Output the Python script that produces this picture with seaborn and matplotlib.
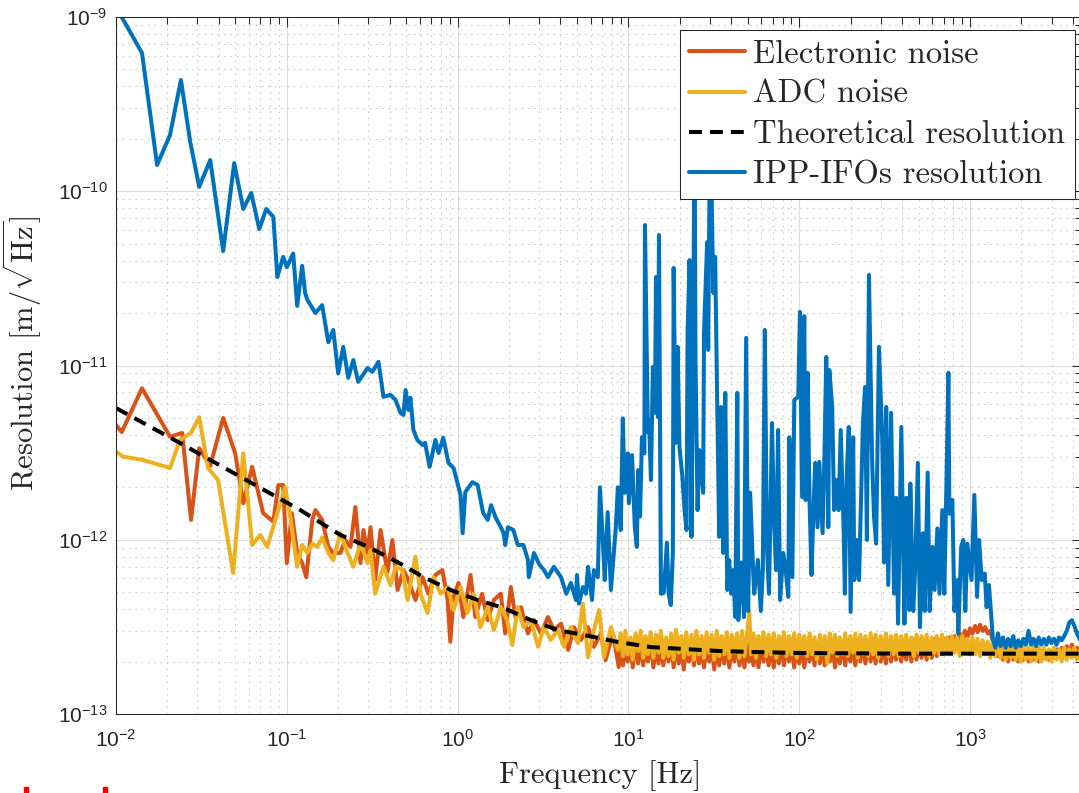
import matplotlib
matplotlib.use("Agg")
import matplotlib.pyplot as plt
import numpy as np
import seaborn as sns
from matplotlib.patches import Rectangle
from matplotlib.ticker import LogLocator, NullFormatter

# Frequency [Hz], resolution [pm/sqrt(Hz)]
# low-frequency part (below ~9 Hz), as (f, value) pairs
elec_lf = [
    (0.0100, 4.56), (0.0108, 4.15), (0.0142, 7.4), (0.0207, 3.9), (0.0244, 4.1),
    (0.0275, 1.30), (0.0307, 3.35), (0.0356, 2.65), (0.0424, 5.0), (0.0499, 3.13),
    (0.0556, 1.62), (0.0627, 2.62), (0.0727, 1.42), (0.0834, 1.27), (0.0892, 2.06),
    (0.0952, 2.06), (0.100, 0.735), (0.107, 1.42), (0.115, 0.84), (0.123, 0.735),
    (0.130, 0.61), (0.141, 1.30), (0.147, 1.48), (0.161, 1.30), (0.175, 0.91),
    (0.187, 0.84), (0.206, 0.84), (0.220, 0.997), (0.236, 0.91), (0.252, 1.54),
    (0.270, 0.735), (0.281, 1.137), (0.297, 0.84), (0.309, 1.18), (0.329, 0.587),
    (0.354, 1.137), (0.388, 0.65), (0.415, 0.997), (0.445, 0.515), (0.482, 0.67),
    (0.515, 0.587), (0.566, 0.451), (0.623, 0.61), (0.675, 0.49), (0.741, 0.628),
    (0.814, 0.67), (0.874, 0.451), (0.906, 0.26), (0.947, 0.47), (1.013, 0.565),
    (1.08, 0.36), (1.19, 0.628), (1.27, 0.36), (1.39, 0.49), (1.50, 0.346),
    (1.63, 0.451), (1.79, 0.49), (1.90, 0.29), (2.05, 0.535), (2.18, 0.36),
    (2.35, 0.41), (2.58, 0.29), (2.80, 0.346), (3.08, 0.29), (3.38, 0.36),
    (3.66, 0.303), (4.03, 0.33), (4.44, 0.233), (4.80, 0.315), (5.27, 0.266),
    (5.80, 0.315), (6.28, 0.243), (6.90, 0.29), (7.35, 0.204), (8.11, 0.29),
    (8.78, 0.186),
]

adc_lf = [
    (0.0100, 3.20), (0.0110, 3.0), (0.0144, 2.87), (0.0207, 2.58), (0.0237, 3.74),
    (0.0275, 4.10), (0.0307, 5.05), (0.0346, 2.58), (0.0396, 2.20), (0.0485, 0.645),
    (0.0556, 3.13), (0.0627, 0.933), (0.0699, 1.065), (0.0768, 0.91), (0.0880, 1.42),
    (0.0978, 2.0), (0.104, 1.42), (0.115, 0.70), (0.123, 0.933), (0.132, 0.84),
    (0.141, 0.95), (0.151, 0.91), (0.161, 1.03), (0.175, 0.84), (0.187, 0.765),
    (0.206, 1.09), (0.227, 0.84), (0.245, 0.70), (0.270, 0.95), (0.297, 0.735),
    (0.309, 0.873), (0.329, 0.49), (0.368, 0.70), (0.405, 0.55), (0.433, 0.70),
    (0.476, 0.67), (0.509, 0.451), (0.566, 0.80), (0.607, 0.49), (0.667, 0.38),
    (0.723, 0.61), (0.795, 0.49), (0.874, 0.535), (0.947, 0.395), (1.04, 0.535),
    (1.14, 0.38), (1.24, 0.49), (1.36, 0.315), (1.50, 0.41), (1.63, 0.303),
    (1.79, 0.41), (1.95, 0.346), (2.09, 0.249), (2.25, 0.41), (2.43, 0.315),
    (2.68, 0.346), (2.96, 0.243), (3.20, 0.315), (3.51, 0.266), (3.86, 0.303),
    (4.20, 0.243), (4.60, 0.315), (5.06, 0.255), (5.41, 0.43), (5.80, 0.212),
    (6.28, 0.303), (6.74, 0.395), (7.19, 0.212), (7.90, 0.315), (8.67, 0.233),
]

# high-frequency part: shared frequency grid and the two noise floors
hf_freq = [
    9.0, 9.3, 9.6, 9.9, 10.3, 10.6, 11.0, 11.4, 11.8, 12.2,
    12.6, 13.0, 13.5, 14.0, 14.5, 15.0, 15.5, 16.0, 16.6, 17.2,
    17.8, 18.4, 19.0, 19.7, 20.4, 21.1, 21.8, 22.6, 23.4, 24.2,
    25.0, 25.9, 26.8, 27.7, 28.7, 29.7, 30.7, 31.8, 32.9, 34.0,
    35.2, 36.4, 37.7, 39.0, 40.3, 41.7, 43.2, 44.7, 46.2, 47.8,
    49.5, 50.9, 52.3, 54.0, 55.8, 57.7, 59.7, 61.8, 64.0, 66.2,
    68.5, 70.9, 73.4, 76.0, 78.6, 81.4, 84.2, 87.2, 90.2, 93.4,
    96.7, 100, 104, 107, 111, 115, 119, 123, 127, 132,
    136, 141, 146, 151, 156, 162, 167, 173, 179, 186,
    192, 199, 206, 213, 220, 228, 236, 244, 253, 262,
    271, 280, 290, 300, 311, 322, 333, 345, 357, 369,
    382, 395, 409, 423, 438, 454, 469, 486, 503, 520,
    538, 557, 577, 597, 618, 639, 662, 685, 709, 733,
    759, 785, 813, 841, 870, 901, 932, 965, 998, 1033,
    1070, 1107, 1145, 1185, 1227, 1270, 1314, 1360, 1407, 1457,
    1508, 1560, 1615, 1671, 1730, 1790, 1853, 1917, 1984, 2054,
    2125, 2200, 2277, 2356, 2439, 2524, 2612, 2703, 2798, 2896,
    2997, 3102, 3210, 3322, 3439, 3559, 3683, 3812, 3946, 4084,
    4226, 4374, 4510,
]

adc_hf = [
    0.29, 0.215, 0.30, 0.22, 0.275, 0.205, 0.29, 0.23, 0.30, 0.21,
    0.28, 0.22, 0.295, 0.21, 0.285, 0.225, 0.30, 0.21, 0.275, 0.215,
    0.29, 0.205, 0.305, 0.225, 0.28, 0.21, 0.295, 0.22, 0.285, 0.205,
    0.30, 0.22, 0.28, 0.21, 0.295, 0.225, 0.285, 0.205, 0.30, 0.215,
    0.28, 0.22, 0.295, 0.21, 0.285, 0.225, 0.29, 0.21, 0.30, 0.215,
    0.285, 0.39, 0.22, 0.29, 0.21, 0.28, 0.225, 0.295, 0.215, 0.285,
    0.22, 0.29, 0.21, 0.28, 0.225, 0.295, 0.215, 0.28, 0.22, 0.29,
    0.21, 0.285, 0.225, 0.28, 0.215, 0.29, 0.22, 0.275, 0.205, 0.285,
    0.22, 0.28, 0.195, 0.29, 0.225, 0.285, 0.215, 0.275, 0.22, 0.29,
    0.215, 0.28, 0.225, 0.29, 0.21, 0.285, 0.22, 0.28, 0.215, 0.29,
    0.22, 0.285, 0.21, 0.28, 0.225, 0.29, 0.215, 0.28, 0.22, 0.285,
    0.215, 0.28, 0.225, 0.285, 0.22, 0.275, 0.215, 0.285, 0.225, 0.28,
    0.22, 0.285, 0.215, 0.275, 0.225, 0.28, 0.22, 0.285, 0.225, 0.275,
    0.22, 0.28, 0.225, 0.275, 0.215, 0.28, 0.225, 0.27, 0.22, 0.275,
    0.22, 0.27, 0.215, 0.265, 0.22, 0.26, 0.21, 0.26, 0.215, 0.255,
    0.21, 0.255, 0.205, 0.25, 0.21, 0.245, 0.205, 0.25, 0.20, 0.245,
    0.205, 0.24, 0.20, 0.245, 0.205, 0.24, 0.20, 0.24, 0.205, 0.235,
    0.20, 0.24, 0.205, 0.235, 0.20, 0.24, 0.205, 0.235, 0.21, 0.24,
    0.205, 0.23, 0.225,
]

elec_hf = [
    0.25, 0.19, 0.26, 0.20, 0.245, 0.185, 0.255, 0.195, 0.26, 0.19,
    0.245, 0.20, 0.26, 0.185, 0.25, 0.195, 0.255, 0.19, 0.245, 0.20,
    0.255, 0.185, 0.26, 0.195, 0.245, 0.18, 0.255, 0.20, 0.25, 0.19,
    0.26, 0.195, 0.245, 0.185, 0.255, 0.20, 0.25, 0.18, 0.26, 0.19,
    0.245, 0.195, 0.255, 0.185, 0.25, 0.20, 0.26, 0.19, 0.245, 0.185,
    0.255, 0.20, 0.245, 0.19, 0.26, 0.185, 0.25, 0.20, 0.245, 0.19,
    0.255, 0.185, 0.25, 0.195, 0.26, 0.19, 0.245, 0.20, 0.255, 0.185,
    0.25, 0.195, 0.26, 0.185, 0.245, 0.20, 0.255, 0.19, 0.25, 0.195,
    0.26, 0.19, 0.245, 0.20, 0.255, 0.185, 0.25, 0.195, 0.26, 0.19,
    0.25, 0.20, 0.255, 0.19, 0.245, 0.20, 0.26, 0.195, 0.25, 0.20,
    0.255, 0.195, 0.26, 0.20, 0.25, 0.195, 0.26, 0.20, 0.255, 0.205,
    0.26, 0.20, 0.255, 0.205, 0.26, 0.20, 0.265, 0.205, 0.26, 0.21,
    0.265, 0.205, 0.26, 0.21, 0.27, 0.215, 0.265, 0.22, 0.27, 0.225,
    0.275, 0.235, 0.28, 0.245, 0.29, 0.26, 0.30, 0.275, 0.31, 0.29,
    0.32, 0.295, 0.325, 0.30, 0.315, 0.29, 0.30, 0.26, 0.24, 0.215,
    0.235, 0.205, 0.23, 0.20, 0.235, 0.205, 0.225, 0.20, 0.23, 0.205,
    0.225, 0.20, 0.23, 0.205, 0.225, 0.20, 0.23, 0.21, 0.225, 0.205,
    0.23, 0.21, 0.235, 0.215, 0.24, 0.22, 0.245, 0.225, 0.25, 0.23,
    0.24, 0.225, 0.235,
]

theory_pts = [
    (0.0100, 5.70), (0.0237, 3.59), (0.0653, 2.06), (0.120, 1.48), (0.206, 1.065),
    (0.300, 0.909), (0.444, 0.745), (0.630, 0.611), (0.910, 0.515), (1.31, 0.451),
    (1.86, 0.406), (2.68, 0.346), (3.86, 0.303), (5.49, 0.284), (8.67, 0.259),
    (13.6, 0.242), (21.2, 0.236), (33.5, 0.230), (52.3, 0.227), (98.6, 0.224),
    (396, 0.222), (4510, 0.222),
]

ipp_pts = [
    (0.0100, 1060), (0.0108, 1000), (0.0142, 621), (0.0174, 141.5), (0.0207, 210),
    (0.0240, 435), (0.0272, 192), (0.0307, 106), (0.0356, 151), (0.0424, 45.4),
    (0.0492, 145), (0.0556, 79.1), (0.0619, 97.7), (0.0690, 60.7), (0.0758, 79.1),
    (0.0834, 71.2), (0.0880, 32.2), (0.0952, 42.0), (0.100, 36.7), (0.109, 43.9),
    (0.115, 22.0), (0.123, 37.3), (0.128, 26.1), (0.132, 23.8), (0.147, 20.0),
    (0.161, 22.2), (0.175, 13.6), (0.187, 16.0), (0.200, 9.0), (0.214, 12.8),
    (0.229, 8.5), (0.245, 10.75), (0.262, 8.06), (0.297, 9.67), (0.317, 9.2),
    (0.344, 10.5), (0.368, 6.61), (0.405, 6.78), (0.433, 6.34), (0.463, 5.35),
    (0.482, 5.20), (0.496, 7.23), (0.515, 5.56), (0.529, 6.53), (0.551, 4.26),
    (0.581, 3.74), (0.623, 3.50), (0.645, 3.6), (0.685, 2.62), (0.741, 3.74),
    (0.774, 3.15), (0.824, 3.85), (0.884, 2.76), (0.947, 2.58), (1.04, 1.81),
    (1.07, 1.09), (1.11, 1.88), (1.22, 2.14), (1.31, 2.06), (1.41, 1.43),
    (1.50, 1.30), (1.57, 1.58), (1.67, 1.34), (1.79, 1.18), (1.86, 1.09),
    (1.90, 0.933), (1.97, 1.18), (2.12, 1.137), (2.25, 0.933), (2.43, 0.933),
    (2.58, 0.765), (2.61, 0.61), (2.80, 0.84), (3.00, 0.725), (3.20, 0.67),
    (3.38, 0.61), (3.66, 0.70), (4.03, 0.61), (4.33, 0.49), (4.60, 0.565),
    (4.93, 0.451), (5.00, 0.628), (5.13, 0.43), (5.41, 0.535), (5.64, 0.49),
    (5.80, 0.70), (6.12, 0.451), (6.28, 0.67), (6.62, 0.61), (6.81, 2.0),
    (7.08, 0.997), (7.27, 0.587), (7.56, 1.44), (7.90, 0.515), (8.22, 0.84),
    (8.44, 1.18), (8.67, 2.0), (9.02, 1.137), (9.27, 4.97), (9.52, 1.86),
    (9.92, 3.13), (10.06, 1.62), (10.5, 3.06), (10.9, 1.18), (11.2, 0.91),
    (11.4, 2.51), (11.7, 1.36), (12.0, 3.88), (12.4, 3.13), (12.5, 64.0),
    (13.0, 4.14), (13.2, 4.87), (13.55, 2.2), (13.9, 9.8), (14.3, 5.35),
    (14.5, 32.2), (14.9, 5.05), (15.1, 56.1), (15.5, 0.49), (16.1, 0.495),
    (16.8, 0.96), (17.2, 0.49), (17.7, 0.422), (18.2, 0.84), (18.4, 36.3),
    (18.9, 3.6), (19.4, 12.8), (19.9, 3.40), (20.7, 2.29), (21.3, 1.48),
    (21.9, 1.137), (22.2, 15.4), (22.8, 40.3), (23.4, 1.04), (24.0, 21.7),
    (24.4, 250), (24.7, 10.75), (25.4, 1.48), (26.0, 3.27), (27.4, 1.86),
    (27.7, 15.4), (28.9, 51.1), (29.3, 12.3), (30.1, 300), (31.4, 26.1),
    (32.2, 42.0), (33.1, 6.1), (34.0, 1.04), (34.9, 5.78), (35.9, 0.84),
    (36.9, 6.96), (37.9, 0.515), (38.9, 0.765), (40.0, 0.49), (41.1, 0.67),
    (42.2, 0.36), (43.4, 6.96), (44.0, 0.346), (45.9, 0.74), (47.5, 0.36),
    (48.9, 14.4), (50.2, 0.39), (51.6, 1.86), (53.7, 0.67), (54.5, 0.49),
    (57.3, 0.765), (59.6, 0.39), (61.2, 0.67), (62.9, 16.0), (64.7, 0.91),
    (66.5, 0.49), (69.3, 4.67), (71.2, 1.30), (73.2, 0.67), (75.2, 4.26),
    (77.3, 0.451), (80.5, 0.84), (82.8, 0.71), (86.3, 0.47), (87.5, 3.87),
    (91.1, 0.61), (93.6, 6.34), (98.7, 6.61), (101, 20.3), (104, 1.76),
    (107, 19.2), (109, 1.69), (112, 9.08), (115, 1.62), (118, 0.628),
    (121, 1.41), (124, 2.76), (128, 1.18), (131, 2.80), (137, 1.09),
    (140, 2.58), (144, 11.2), (148, 1.18), (150, 9.42), (156, 5.78),
    (160, 1.48), (165, 2.2), (170, 1.48), (175, 4.26), (182, 1.137),
    (185, 0.49), (190, 2.43), (195, 4.44), (200, 0.385), (207, 3.87),
    (210, 0.587), (218, 0.997), (224, 0.587), (236, 4.67), (243, 7.52),
    (249, 0.997), (256, 33.1), (267, 2.87), (274, 1.36), (282, 0.95),
    (293, 12.8), (306, 3.87), (314, 0.74), (323, 5.78), (332, 0.55),
    (345, 5.35), (359, 0.49), (369, 1.74), (379, 0.33), (396, 4.44),
    (413, 0.33), (424, 1.74), (441, 0.395), (447, 2.1), (465, 0.39),
    (477, 0.67), (495, 2.76), (509, 0.315), (529, 1.09), (543, 0.39),
    (565, 2.43), (580, 0.39), (603, 0.91), (620, 0.515), (644, 1.16),
    (662, 0.49), (688, 1.48), (707, 0.49), (727, 2.0), (747, 9.08),
    (757, 1.41), (788, 1.69), (810, 0.39), (842, 0.587), (854, 0.29),
    (888, 0.91), (913, 0.997), (938, 0.39), (964, 0.95), (1020, 0.587),
    (1060, 1.81), (1100, 0.47), (1130, 0.997), (1170, 0.587), (1220, 0.64),
    (1250, 0.41), (1290, 0.55), (1340, 0.335), (1360, 0.27), (1407, 0.24),
    (1457, 0.29), (1508, 0.245), (1560, 0.275), (1615, 0.24), (1671, 0.27),
    (1730, 0.245), (1790, 0.28), (1853, 0.24), (1917, 0.265), (1984, 0.245),
    (2054, 0.27), (2125, 0.25), (2200, 0.30), (2277, 0.25), (2356, 0.27),
    (2439, 0.245), (2524, 0.275), (2612, 0.25), (2703, 0.27), (2798, 0.25),
    (2896, 0.275), (2997, 0.255), (3102, 0.27), (3210, 0.25), (3322, 0.275),
    (3439, 0.265), (3559, 0.28), (3683, 0.30), (3812, 0.335), (3946, 0.345),
    (4084, 0.32), (4226, 0.29), (4374, 0.27), (4510, 0.255),
]


def join(lf, hf_v):
    """Low-frequency pairs followed by the shared high-frequency grid."""
    lf = np.array(lf)
    return (np.concatenate([lf[:, 0], hf_freq]),
            np.concatenate([lf[:, 1], hf_v]))


elec_f, elec_v = join(elec_lf, elec_hf)
adc_f, adc_v = join(adc_lf, adc_hf)
theory_f, theory_v = np.array(theory_pts).T
ipp_f, ipp_v = np.array(ipp_pts).T

series = [
    ("Electronic noise", elec_f, elec_v, "#D95319", "-"),
    ("ADC noise", adc_f, adc_v, "#EDB120", "-"),
    ("Theoretical resolution", theory_f, theory_v, "black", "--"),
    ("IPP-IFOs resolution", ipp_f, ipp_v, "#0072BD", "-"),
]

sns.set_theme(style="white")
plt.rcParams["font.family"] = ["Liberation Sans", "DejaVu Sans"]
plt.rcParams["axes.unicode_minus"] = False
plt.rcParams["mathtext.fontset"] = "dejavusans"

dark = "#262626"

fig = plt.figure(figsize=(10.79, 7.93), dpi=100)
ax = fig.add_axes([116 / 1079, 79 / 793, 965.6 / 1079, 697 / 793])
ax.set_xscale("log")
ax.set_yscale("log")

for name, f, v, col, ls in series:
    sns.lineplot(x=f, y=v * 1e-12, ax=ax, color=col, lw=2.9, linestyle=ls,
                 label=name, estimator=None, sort=False)
    if ls == "--":
        ax.lines[-1].set_dashes((3.2, 2.0))

ax.set_xlim(0.01, 4500)
ax.set_ylim(1e-13, 1e-9)

# MATLAB-like log grid and ticks
ax.xaxis.set_major_locator(LogLocator(base=10, numticks=20))
ax.yaxis.set_major_locator(LogLocator(base=10, numticks=20))
for axis in (ax.xaxis, ax.yaxis):
    axis.set_minor_locator(LogLocator(base=10, subs=np.arange(2, 10), numticks=100))
    axis.set_minor_formatter(NullFormatter())

ax.set_axisbelow(True)
ax.grid(which="major", color="#dedede", lw=0.8, ls="-")
ax.grid(which="minor", color="#c2c2c2", lw=0.8, ls=(0, (1.2, 4.5)))

ax.tick_params(which="both", direction="in", top=True, right=True,
               color=dark, width=0.75, labelsize=15, labelcolor=dark)
ax.tick_params(which="major", length=7.5)
ax.tick_params(which="minor", length=5)
ax.tick_params(axis="x", pad=11)
ax.tick_params(axis="y", pad=6)
for sp in ax.spines.values():
    sp.set_color(dark)
    sp.set_linewidth(0.75)

ax.set_xlabel("Frequency [Hz]", fontfamily="cmr10", fontsize=22, color=dark)
ax.set_ylabel(r"Resolution [m/$\sqrt{\mathrm{Hz}}$]", fontfamily="cmr10",
              fontsize=22, color=dark, math_fontfamily="cm")
ax.xaxis.set_label_coords(0.502, -0.066)
ax.yaxis.set_label_coords(-0.0745, 0.518)

leg = ax.legend(loc="upper right", bbox_to_anchor=(1075 / 1079, 1 - 30 / 793),
                bbox_transform=fig.transFigure, borderaxespad=0,
                prop={"family": "cmr10", "size": 23.5}, frameon=True,
                fancybox=False, framealpha=1, edgecolor=dark,
                handlelength=1.7, handletextpad=0.25, labelspacing=0.34,
                borderpad=0.3)
leg.get_frame().set_linewidth(0.75)

# two small red marks at the bottom-left edge of the page
for x0 in (24, 103):
    fig.add_artist(Rectangle((x0 / 1079, 0), 4 / 1079, 6 / 793,
                             color="red", transform=fig.transFigure))

fig.savefig("out.png", dpi=100)
